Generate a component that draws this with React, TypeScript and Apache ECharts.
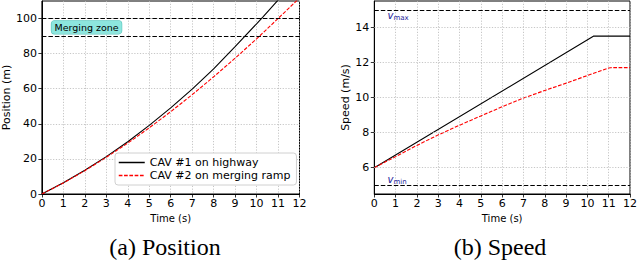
import React, { useEffect, useRef } from "react";
import * as echarts from "echarts";

// ---- Data ----
const xTicks = [0, 1, 2, 3, 4, 5, 6, 7, 8, 9, 10, 11, 12];
const posTicks = [0, 20, 40, 60, 80, 100];
const speedTicks = [6, 8, 10, 12, 14];

const seriesNames = ["CAV #1 on highway", "CAV #2 on merging ramp"];

// Position (m)
const cav1PosTime = [0, 1, 2, 3, 4, 5, 6, 7, 8, 9, 10, 10.3, 11, 12];
const cav1Pos = [0, 6.4, 13.5, 21.3, 29.8, 39.1, 49.1, 59.8, 71.3, 84, 97, 101, 110.5, 124];
const cav2PosTime = [0, 1, 2, 3, 4, 5, 6, 7, 8, 9, 10, 11, 12];
const cav2Pos = [0, 6.3, 13.3, 20.9, 29.0, 37.7, 46.9, 56.6, 66.8, 77.4, 88.4, 100, 111.7];

// Speed (m/s)
const cav1SpeedTime = [0, 10.3, 12];
const cav1Speed = [6, 13.5, 13.5];
const cav2SpeedTime = [0, 1, 2, 3, 4, 5, 6, 7, 8, 9, 10, 11, 11.1, 12];
const cav2Speed = [6, 6.63, 7.27, 7.87, 8.42, 8.95, 9.47, 9.97, 10.4, 10.82, 11.25, 11.68, 11.7, 11.7];

// Reference lines
const mergeZone = [90, 100];
const vMax = 15;
const vMin = 5;

const zip = (xs: number[], ys: number[]) => xs.map((x, i) => [x, ys[i]]);

const FONT = "DejaVu Sans";
const gridLine = { color: "#b8b8b8", width: 0.8, type: [1.2, 1.6] as any };
const dashBlack = { color: "#000", width: 1.1, type: [4.5, 2] as any };

export default function App() {
  const ref = useRef<HTMLDivElement>(null);
  useEffect(() => {
    if (!ref.current) return;
    const chart = echarts.init(ref.current, undefined, { renderer: "svg" });

    const xAxisBase = (gridIndex: number) => ({
      type: "value",
      gridIndex,
      min: 0,
      max: 12,
      interval: 1,
      name: "Time (s)",
      nameLocation: "middle",
      nameGap: 17,
      nameTextStyle: { fontFamily: FONT, fontSize: 10, color: "#000" },
      axisLine: { show: true, lineStyle: { color: "#000", width: 1 } },
      axisTick: { show: true, length: 3.5, lineStyle: { color: "#000", width: 0.8 } },
      axisLabel: { fontFamily: FONT, fontSize: 11, color: "#000", margin: 4 },
      splitLine: { show: true, lineStyle: gridLine },
    });

    const option: any = {
      animation: false,
      grid: [
        { left: 40, top: 1, width: 259.5, height: 193, show: true, borderColor: "#000", borderWidth: 1, backgroundColor: "transparent" },
        { left: 374.3, top: 1, width: 258.7, height: 193, show: true, borderColor: "#000", borderWidth: 1, backgroundColor: "transparent" },
      ],
      xAxis: [xAxisBase(0), xAxisBase(1)],
      yAxis: [
        {
          type: "value",
          gridIndex: 0,
          min: 0,
          max: 110,
          interval: 20,
          name: "Position (m)",
          nameLocation: "middle",
          nameGap: 28,
          nameTextStyle: { fontFamily: FONT, fontSize: 11, color: "#000" },
          axisLine: { show: true, lineStyle: { color: "#000", width: 1 } },
          axisTick: { show: true, length: 3.5, customValues: posTicks, lineStyle: { color: "#000", width: 0.8 } },
          axisLabel: { fontFamily: FONT, fontSize: 11, color: "#000", margin: 5, customValues: posTicks },
          splitLine: { show: true, lineStyle: gridLine },
        },
        {
          type: "value",
          gridIndex: 1,
          min: 4.5,
          max: 15.5,
          name: "Speed (m/s)",
          nameLocation: "middle",
          nameGap: 22,
          nameTextStyle: { fontFamily: FONT, fontSize: 11, color: "#000" },
          axisLine: { show: true, lineStyle: { color: "#000", width: 1 } },
          axisTick: { show: true, length: 3.5, customValues: speedTicks, lineStyle: { color: "#000", width: 0.8 } },
          axisLabel: { fontFamily: FONT, fontSize: 11, color: "#000", margin: 5, customValues: speedTicks },
          splitLine: { show: false },
        },
      ],
      legend: {
        data: seriesNames,
        orient: "vertical",
        left: 115,
        top: 153,
        itemWidth: 26,
        itemHeight: 12,
        itemGap: 2,
        padding: [4, 6, 4, 3],
        backgroundColor: "#fff",
        borderColor: "#d0d0d0",
        borderWidth: 1,
        borderRadius: 3,
        itemStyle: { opacity: 0 },
        lineStyle: { width: 1.5 },
        textStyle: { fontFamily: FONT, fontSize: 11, color: "#000" },
      },
      series: [
        {
          name: seriesNames[0],
          type: "line",
          xAxisIndex: 0,
          yAxisIndex: 0,
          data: zip(cav1PosTime, cav1Pos),
          symbol: "none",
          clip: true,
          lineStyle: { color: "#000", width: 1.1 },
          itemStyle: { color: "#000" },
          z: 3,
          markLine: {
            silent: true,
            symbol: "none",
            label: { show: false },
            lineStyle: dashBlack,
            data: mergeZone.map((v) => ({ yAxis: v })),
          },
          markPoint: {
            silent: true,
            symbol: "rect",
            symbolSize: 0,
            data: [
              {
                coord: [2.08, 95],
                label: {
                  show: true,
                  position: "inside",
                  formatter: "Merging zone",
                  fontFamily: FONT,
                  fontSize: 9.5,
                  color: "#000",
                  backgroundColor: "#8de6de",
                  borderColor: "#5cc4bb",
                  borderWidth: 0.6,
                  borderRadius: 3,
                  padding: [2, 3, 1, 3],
                },
              },
            ],
          },
        },
        {
          name: seriesNames[1],
          type: "line",
          xAxisIndex: 0,
          yAxisIndex: 0,
          data: zip(cav2PosTime, cav2Pos),
          symbol: "none",
          clip: true,
          lineStyle: { color: "#ff0000", width: 1.1, type: [3.7, 1.6] },
          itemStyle: { color: "#ff0000" },
          z: 3,
        },
        {
          name: seriesNames[0],
          type: "line",
          xAxisIndex: 1,
          yAxisIndex: 1,
          data: zip(cav1SpeedTime, cav1Speed),
          symbol: "none",
          lineStyle: { color: "#000", width: 1.1 },
          itemStyle: { color: "#000" },
          z: 3,
          markLine: {
            silent: true,
            symbol: "none",
            label: { show: false },
            data: [
              ...speedTicks.map((v) => ({ yAxis: v, lineStyle: gridLine })),
              { yAxis: vMax, lineStyle: dashBlack },
              { yAxis: vMin, lineStyle: dashBlack },
            ],
          },
          markPoint: {
            silent: true,
            symbol: "rect",
            symbolSize: 0,
            label: {
              show: true,
              position: "right",
              distance: 0,
              rich: {
                v: { fontFamily: FONT, fontStyle: "italic", fontSize: 10, color: "#24249a" },
                s: { fontFamily: FONT, fontSize: 7, color: "#24249a", verticalAlign: "bottom", padding: [5, 0, 0, 0] },
              },
            },
            data: [
              { coord: [0.62, 14.7], label: { formatter: "{v|v}{s|max}" } },
              { coord: [0.62, 5.35], label: { formatter: "{v|v}{s|min}" } },
            ],
          },
        },
        {
          name: seriesNames[1],
          type: "line",
          xAxisIndex: 1,
          yAxisIndex: 1,
          data: zip(cav2SpeedTime, cav2Speed),
          symbol: "none",
          lineStyle: { color: "#ff0000", width: 1.1, type: [3.7, 1.6] },
          itemStyle: { color: "#ff0000" },
          z: 3,
        },
      ],
      graphic: [
        {
          type: "text",
          x: 165,
          y: 247,
          style: { text: "(a) Position", fontFamily: "Liberation Serif", fontSize: 24, fill: "#000", align: "center", verticalAlign: "middle" },
        },
        {
          type: "text",
          x: 500,
          y: 247,
          style: { text: "(b) Speed", fontFamily: "Liberation Serif", fontSize: 24, fill: "#000", align: "center", verticalAlign: "middle" },
        },
      ],
    };
    chart.setOption(option);
    return () => chart.dispose();
  }, []);
  return (
    <div
      ref={ref}
      style={{ position: "absolute", left: 0, top: 0, width: 640, height: 264, background: "#fff" }}
    />
  );
}
